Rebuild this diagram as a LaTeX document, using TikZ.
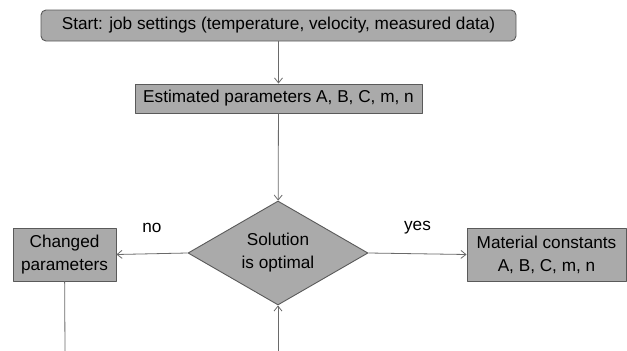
\documentclass[tikz,border=0pt]{standalone}
\usepackage{fontspec}
\setmainfont{Liberation Sans}
\usetikzlibrary{shapes.geometric,arrows.meta}

\definecolor{flowfill}{HTML}{AAAAAA}
\definecolor{flowedge}{HTML}{5A5A5A}
\definecolor{flowline}{HTML}{6A6A6A}

\tikzset{
  flowbox/.style={draw=flowedge,fill=flowfill,line width=0.9pt,inner sep=0pt,
    align=center,font=\fontsize{17.2}{23}\selectfont},
  flowdecide/.style={flowbox,diamond,aspect=1.73},
  flowarrow/.style={draw=flowline,line width=0.8pt,-{Straight Barb[length=5pt,width=8pt]}},
  flowlabel/.style={font=\fontsize{17.2}{20}\selectfont,inner sep=0pt},
}

\begin{document}
\begin{tikzpicture}[x=1pt,y=-1pt,line join=round]
  % Match the artwork frame.
  \useasboundingbox (0,0) rectangle (627,351);

  % Boxes of the flow, top to bottom.
  \node[flowbox,rounded corners=5pt,minimum width=475pt,minimum height=31pt] (start) at (278.5,25.5)
    {Start: job settings (temperature, velocity, measured data)};
  \node[flowbox,minimum width=287pt,minimum height=29pt] (estim) at (278.5,98.5)
    {Estimated parameters A, B, C, m, n};
  \node[flowdecide,minimum width=180pt,minimum height=104pt] (optim) at (278,253)
    {Solution\\is optimal};
  \node[flowbox,minimum width=103pt,minimum height=53pt] (chg) at (64.5,254.5)
    {Changed\\parameters};
  \node[flowbox,minimum width=159pt,minimum height=53pt] (mat) at (546.5,254.5)
    {Material constants\\A, B, C, m, n};

  % Loose ends running out of the frame.
  \coordinate (chgout) at (65,351);
  \coordinate (loopin) at (278,351);

  % Connectors.
  \draw[flowarrow] (start) -- (estim);
  \draw[flowarrow] (estim) -- (optim);
  \draw[flowarrow] (optim.west) -- node[flowlabel,yshift=26pt] {no} (chg.east);
  \draw[flowarrow] (optim.east) -- node[flowlabel,yshift=26pt] {yes} (mat.west);
  \draw[flowarrow,-] (chg) -- (chgout);
  \draw[flowarrow] (loopin) -- (optim.south);
\end{tikzpicture}
\end{document}
